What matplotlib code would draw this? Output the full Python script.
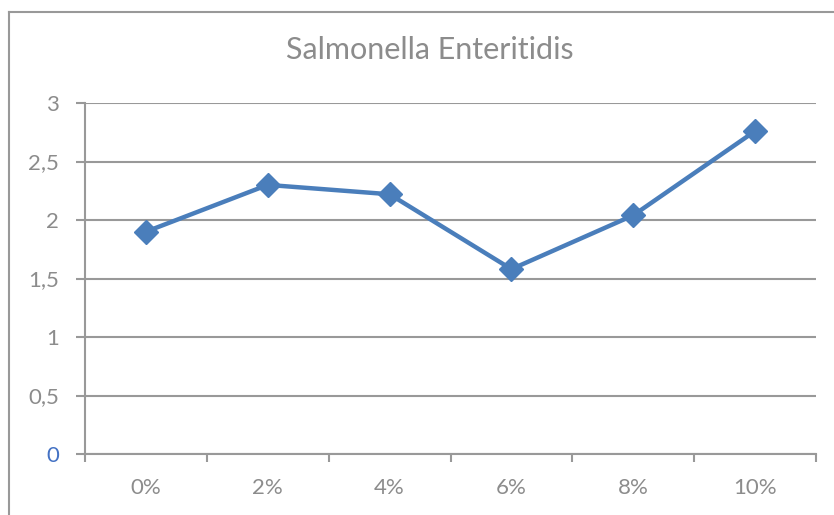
import matplotlib.pyplot as plt
from matplotlib.lines import Line2D

categories = ['0%', '2%', '4%', '6%', '8%', '10%']
values = [1.9, 2.3, 2.22, 1.58, 2.04, 2.76]
yticks = [0, 0.5, 1, 1.5, 2, 2.5, 3]

grey = '#999999'
text_grey = '#8c8c8c'
blue = '#4a7ebb'

plt.rcParams['font.family'] = ['Lato', 'DejaVu Sans']

fig = plt.figure(figsize=(8.34, 5.15), dpi=100)
ax = fig.add_axes([85 / 834, 61 / 515, 731 / 834, 351 / 515])

x = list(range(len(categories)))
ax.plot(x, values, color=blue, lw=3.2, marker='D', ms=12.5, mec=blue, mfc=blue, zorder=3)

ax.set_xlim(-0.5, len(categories) - 0.5)
ax.set_ylim(0, 3)
ax.set_yticks(yticks)
ax.set_yticklabels([str(v).replace('.', ',').replace(',0', '') for v in yticks])
ax.set_xticks(x)
ax.set_xticklabels(categories)
ax.set_xticks([i - 0.5 for i in range(len(categories) + 1)], minor=True)

ax.grid(axis='y', color=grey, lw=1.5)
ax.set_axisbelow(True)
for s in ['top', 'right']:
    ax.spines[s].set_visible(False)
for s in ['left', 'bottom']:
    ax.spines[s].set_color(grey)
    ax.spines[s].set_linewidth(1.5)

ax.tick_params(axis='y', direction='out', length=6.5, width=1.5, color=grey,
               labelcolor=text_grey, labelsize=16, pad=12)
ax.tick_params(axis='x', which='major', length=0, labelcolor=text_grey, labelsize=16, pad=17)
ax.tick_params(axis='x', which='minor', direction='out', length=6, width=1.5, color=grey)
ax.get_yticklabels()[0].set_color('#4472c4')

fig.text(430 / 834, 1 - 50 / 515, 'Salmonella Enteritidis', ha='center', va='center',
         fontsize=22, color=text_grey)

# chart frame
fig.add_artist(Line2D([9 / 834, 9 / 834], [0, 1 - 12 / 515], transform=fig.transFigure, color=grey, lw=1.5))
fig.add_artist(Line2D([9 / 834, 1], [1 - 12 / 515, 1 - 12 / 515], transform=fig.transFigure, color=grey, lw=1.5))

fig.savefig('out.png', dpi=100)
